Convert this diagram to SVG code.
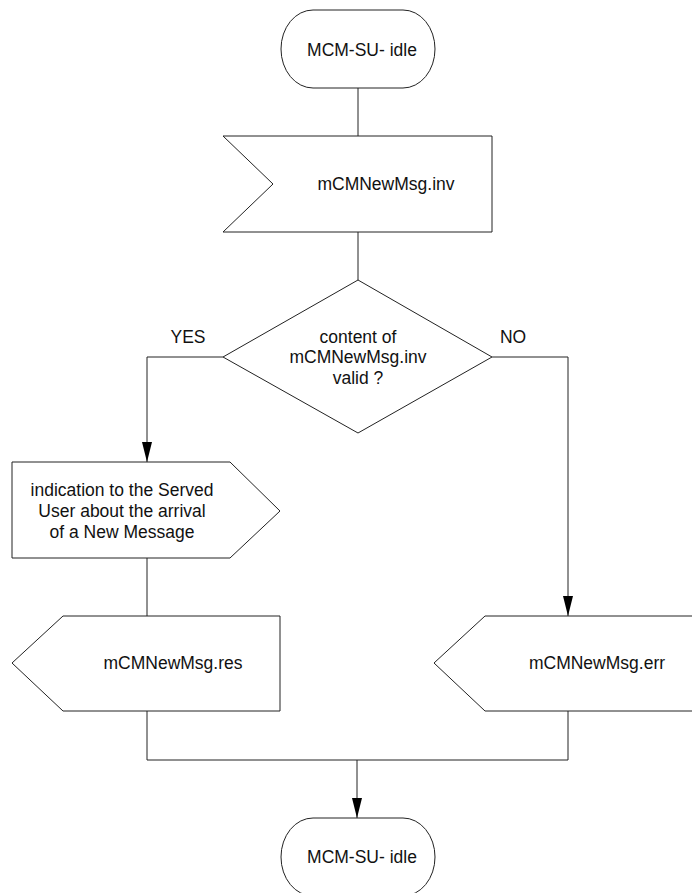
<svg xmlns="http://www.w3.org/2000/svg" width="692" height="893" viewBox="0 0 692 893">
<style>
.s{fill:#fff;stroke:#222;stroke-width:1}
.c{fill:none;stroke:#222;stroke-width:1}
text{font-family:"Liberation Sans",Arial,sans-serif;font-size:17.5px;fill:#111;text-anchor:middle;dominant-baseline:central}
</style>
<defs>
<marker id="ad" viewBox="0 0 10 20" refX="5" refY="20" markerWidth="10" markerHeight="20" markerUnits="userSpaceOnUse" orient="0">
<path d="M0,0 L10,0 L5,20 Z" fill="#000"/>
</marker>
</defs>
<g id="connectors">
<path class="c" d="M358,88 V136"/>
<path class="c" d="M358,232 V280"/>
<path class="c" d="M223,357 H147 V462" marker-end="url(#ad)"/>
<path class="c" d="M492,357 H568 V616" marker-end="url(#ad)"/>
<path class="c" d="M147,558 V616"/>
<path class="c" d="M147,711 V760 H568 V711"/>
<path class="c" d="M357,760 V818" marker-end="url(#ad)"/>
</g>
<g id="start">
<rect class="s" x="281" y="10" width="154" height="78" rx="32" ry="39"/>
<text x="362" y="50">MCM-SU- idle</text>
</g>
<g id="input">
<path class="s" d="M223,136 H492 V232 H223 L273,184 Z"/>
<text x="386" y="184">mCMNewMsg.inv</text>
</g>
<g id="decision">
<path class="s" d="M358,280 L492,357 L358,433 L223,357 Z"/>
<text x="358" y="337">content of</text>
<text x="358" y="357">mCMNewMsg.inv</text>
<text x="358" y="378">valid ?</text>
<text x="188" y="337">YES</text>
<text x="513" y="337">NO</text>
</g>
<g id="indication">
<path class="s" d="M12,462 H230 L280,511 L230,558 H12 Z"/>
<text x="122" y="490">indication to the Served</text>
<text x="122" y="511">User about the arrival</text>
<text x="122" y="532">of a New Message</text>
</g>
<g id="res">
<path class="s" d="M63,616 H280 V711 H63 L12,663 Z"/>
<text x="173" y="663">mCMNewMsg.res</text>
</g>
<g id="err">
<path class="s" d="M485,616 H702 V711 H485 L434,663 Z"/>
<text x="597" y="663">mCMNewMsg.err</text>
</g>
<g id="end">
<rect class="s" x="281" y="818" width="154" height="78" rx="32" ry="39"/>
<text x="362" y="857">MCM-SU- idle</text>
</g>
</svg>
